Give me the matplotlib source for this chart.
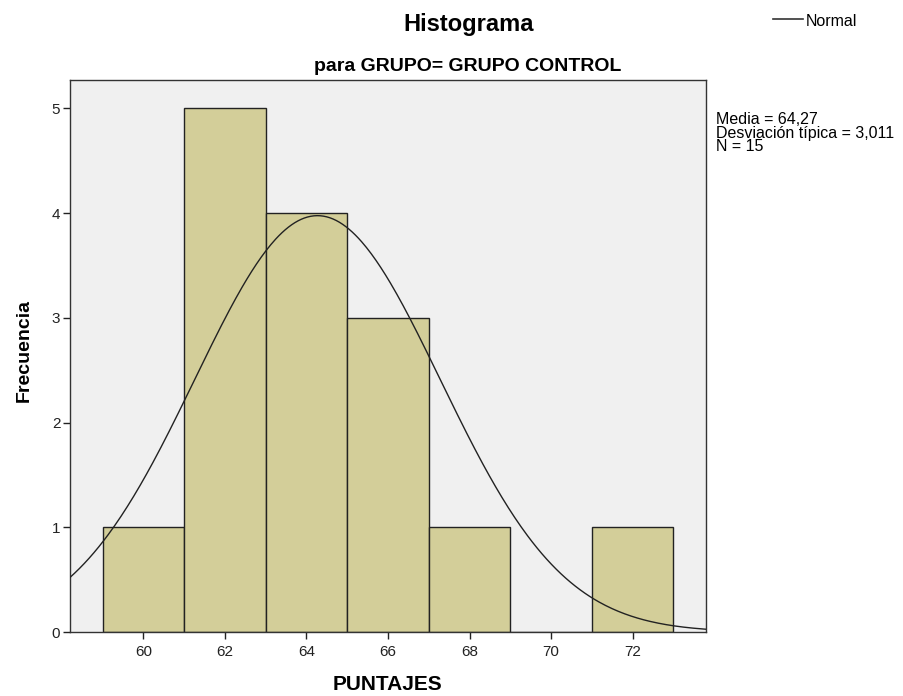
import numpy as np
import matplotlib
matplotlib.use("Agg")
import matplotlib.pyplot as plt

bin_edges = [59, 61, 63, 65, 67, 69, 71, 73]
counts = [1, 5, 4, 3, 1, 0, 1]
mean = 64.27
sd = 3.011
n = 15
xticks = [60, 62, 64, 66, 68, 70, 72]
yticks = [0, 1, 2, 3, 4, 5]

plt.rcParams['font.family'] = ['Liberation Sans', 'DejaVu Sans']

fig = plt.figure(figsize=(9.04, 6.96), dpi=100)
ax = fig.add_axes([70/904, 1-632/696, (706-70)/904, (632-80)/696])
ax.set_facecolor('#F0F0F0')

lefts = bin_edges[:-1]
widths = np.diff(bin_edges)
ax.bar(lefts, counts, width=widths, align='edge', color='#D3CE99',
       edgecolor='#222222', linewidth=1.0, zorder=2)

xs = np.linspace(58.2, 73.8, 400)
bw = bin_edges[1] - bin_edges[0]
ys = n * bw / (sd * np.sqrt(2*np.pi)) * np.exp(-0.5*((xs-mean)/sd)**2)
ax.plot(xs, ys, color='#222222', linewidth=1.0, zorder=3)

ax.set_xlim(58.2, 73.8)
ax.set_ylim(0, 5.27)
ax.set_xticks(xticks)
ax.set_yticks(yticks)
ax.tick_params(axis='both', direction='out', length=5, width=1, labelsize=11,
               colors='#222222', top=False, right=False)
ax.tick_params(axis='x', pad=4)
ax.tick_params(axis='y', pad=2)
for s in ax.spines.values():
    s.set_color('#333333')
    s.set_linewidth(1.0)

fig.text(388/904, 1-685/696, 'PUNTAJES', ha='center', va='center',
         fontsize=15, fontweight='bold')
fig.text(24/904, 1-350/696, 'Frecuencia', ha='center', va='center',
         rotation=90, fontsize=14, fontweight='bold')

fig.text(469/904, 1-31/696, 'Histograma', ha='center', va='baseline',
         fontsize=17, fontweight='bold')
fig.text(468/904, 1-71/696, 'para GRUPO= GRUPO CONTROL', ha='center', va='baseline',
         fontsize=14, fontweight='bold')

fig.add_artist(matplotlib.lines.Line2D([773/904, 803/904], [1-19/696, 1-19/696],
                                       color='#333333', linewidth=1.2))
fig.text(806/904, 1-26/696, 'Normal', ha='left', va='baseline', fontsize=11.5)

stats = f"Media = 64,27\nDesviación típica = 3,011\nN = {n}"
fig.text(716/904, 1-112/696, stats, ha='left', va='top', fontsize=11.5,
         linespacing=0.88)

fig.savefig('out.png', dpi=100)
